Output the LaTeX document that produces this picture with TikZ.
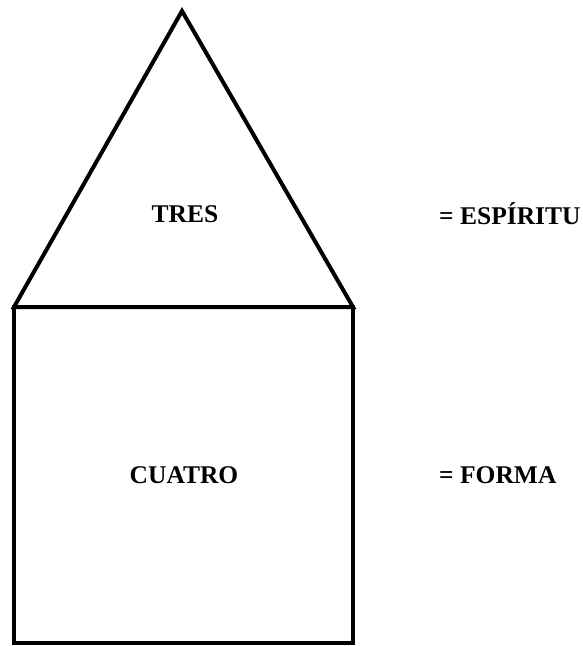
\documentclass[tikz,border=0pt]{standalone}
\usepackage{fontspec}
\setmainfont{Liberation Serif}
\usetikzlibrary{positioning}
\tikzset{label-text/.style={font=\bfseries\fontsize{25.5}{28}\selectfont, inner sep=0pt}}

\begin{document}
\begin{tikzpicture}[x=1pt, y=-1pt]
\useasboundingbox (0,0) rectangle (582,646);
            \draw[line width=4pt, line join=miter] (14,307) -- (182,11) -- (353,307) -- cycle;
\draw[line width=4pt] (14,307) rectangle (353,643);
\node[label-text] (tres) at (185,214) {TRES};
\node[label-text, anchor=west] (espiritu) at (439,214) {= ESPÍRITU};
\node[label-text] (cuatro) at (184,475) {CUATRO};
\node[label-text, anchor=west] (forma) at (439,475) {= FORMA};
        \end{tikzpicture}
\end{document}
